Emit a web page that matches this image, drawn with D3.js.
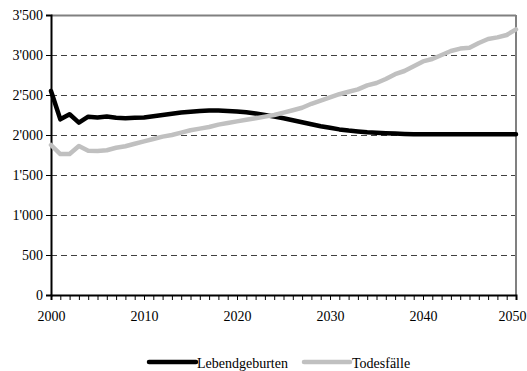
<!DOCTYPE html>
<html><head><meta charset="utf-8">
<script src="https://cdn.jsdelivr.net/npm/d3@7"></script>
<style>body{margin:0;background:#fff}svg{display:block}text{font-family:"Liberation Serif","Times New Roman",serif;fill:#000}</style>
</head><body>
<script>
const years = d3.range(2000, 2051);
const lebendgeburten = [2550,2196,2259,2154,2229,2219,2230,2215,2210,2215,2220,
  2235,2250,2265,2280,2290,2300,2305,2305,2300,2295,
  2285,2270,2250,2230,2210,2185,2160,2135,2110,2090,
  2070,2055,2045,2035,2028,2022,2018,2014,2010,2008,
  2008,2008,2008,2009,2009,2009,2009,2009,2009,2009];
const todesfaelle = [1875,1762,1762,1862,1804,1800,1810,1840,1860,1890,1920,
  1950,1980,2000,2030,2060,2080,2100,2130,2150,2170,
  2190,2210,2230,2250,2280,2310,2340,2390,2430,2470,
  2510,2540,2570,2620,2650,2700,2760,2800,2860,2920,
  2950,3000,3050,3080,3090,3150,3200,3220,3250,3320];
const yTicks = [0,500,1000,1500,2000,2500,3000,3500];
const xTicks = [2000,2010,2020,2030,2040,2050];
const seriesNames = ["Lebendgeburten","Todesfälle"];
const colors = ["#000000","#c0c0c0"];

const W=527,H=371, L=51, R=516, T=15, B=295;
const svg=d3.select("body").append("svg").attr("width",W).attr("height",H);
const x=d3.scaleLinear().domain([2000,2050]).range([L,R]);
const y=d3.scaleLinear().domain([0,3500]).range([B,T]);
const fmt=v=>d3.format(",")(v).replace(/,/g,"'");

// gridlines
svg.append("g").selectAll("line").data(yTicks.filter(v=>v>0&&v<3500)).join("line")
  .attr("x1",L).attr("x2",R).attr("y1",d=>Math.round(y(d))+0.5).attr("y2",d=>Math.round(y(d))+0.5)
  .attr("stroke","#404040").attr("stroke-width",1).attr("stroke-dasharray","6,4");
// top and right frame
svg.append("line").attr("x1",L).attr("x2",R).attr("y1",T+0.5).attr("y2",T+0.5).attr("stroke","#808080").attr("stroke-width",2);
svg.append("line").attr("x1",R).attr("x2",R).attr("y1",T).attr("y2",B).attr("stroke","#808080").attr("stroke-width",2);

// axes
const yAxis=d3.axisLeft(y).tickValues(yTicks).tickFormat(fmt).tickSize(5).tickPadding(3);
const gy=svg.append("g").attr("transform",`translate(${L},0)`).call(yAxis);
gy.attr("font-family",null);
gy.select(".domain").attr("stroke","#000").attr("stroke-width",2);
gy.selectAll("text").attr("font-size",14).attr("dy","0.35em");

const xMinor=d3.axisBottom(x).tickValues(years).tickFormat("").tickSize(5);
const gxm=svg.append("g").attr("transform",`translate(0,${B})`).call(xMinor);
gxm.select(".domain").attr("stroke","#000").attr("stroke-width",2);
const xAxis=d3.axisBottom(x).tickValues(xTicks).tickFormat(d3.format("d")).tickSize(0).tickPadding(16);
const gx=svg.append("g").attr("transform",`translate(0,${B})`).call(xAxis);
gx.attr("font-family",null);
gx.select(".domain").remove();
gx.selectAll("text").attr("font-size",14);
gx.selectAll(".tick").filter(d=>d===2050).select("text").attr("text-anchor","end").attr("x",10);

// lines
const line=d3.line().x((d,i)=>x(years[i])).y(d=>y(d));
[lebendgeburten,todesfaelle].forEach((s,k)=>{
  svg.append("path").datum(s).attr("d",line).attr("fill","none")
    .attr("stroke",colors[k]).attr("stroke-width",4.5).attr("stroke-linejoin","round").attr("stroke-linecap","round");
});

// legend
const lg=[{x1:149,x2:196,tx:197},{x1:304,x2:350,tx:352}];
lg.forEach((p,k)=>{
  svg.append("line").attr("x1",p.x1).attr("x2",p.x2).attr("y1",362).attr("y2",362)
    .attr("stroke",colors[k]).attr("stroke-width",4.5).attr("stroke-linecap","round");
  svg.append("text").attr("x",p.tx).attr("y",368).attr("font-size",14).text(seriesNames[k]);
});
</script>
</body></html>
